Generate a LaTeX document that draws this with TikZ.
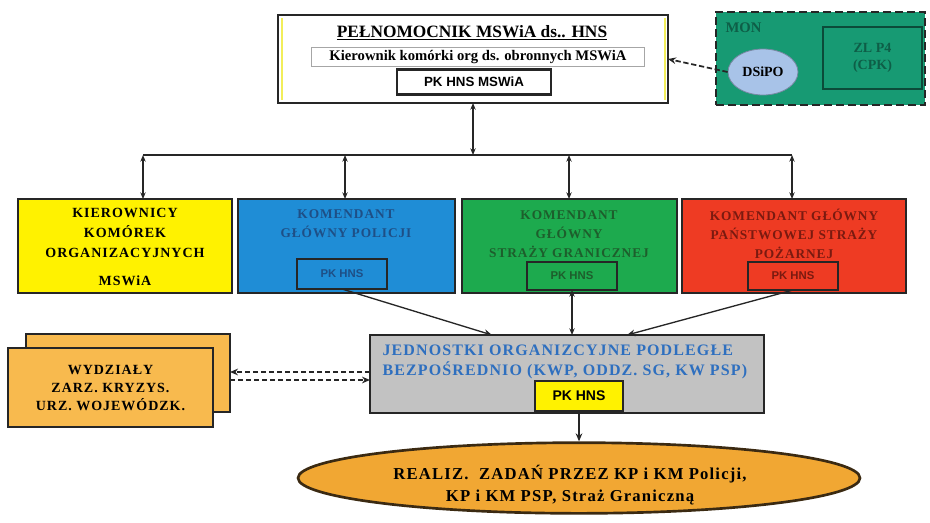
\documentclass[tikz,border=0pt]{standalone}
\usepackage{fontspec}
\setmainfont{Liberation Serif}
\setsansfont{Liberation Sans}
\newfontfamily\wideserif[LetterSpace=7]{Liberation Serif}
\usetikzlibrary{arrows.meta,calc,shapes.geometric}

\definecolor{monGreen}{HTML}{179A73}
\definecolor{monText}{HTML}{0E5E47}
\definecolor{dsipoBlue}{HTML}{A8C3E8}
\definecolor{polBlue}{HTML}{1F8DD6}
\definecolor{polText}{HTML}{1E4F86}
\definecolor{sgGreen}{HTML}{1DAA4E}
\definecolor{sgText}{HTML}{1D5E2C}
\definecolor{pspRed}{HTML}{EE3B23}
\definecolor{pspText}{HTML}{7A1A10}
\definecolor{jedGray}{HTML}{C2C2C2}
\definecolor{jedText}{HTML}{2E6FBF}
\definecolor{wydOrange}{HTML}{F8BA4E}
\definecolor{realOrange}{HTML}{F1A733}
\definecolor{realEdge}{HTML}{3B2A12}
\definecolor{edge}{HTML}{262626}
\definecolor{paleYellow}{HTML}{F2EE5A}

\tikzset{every picture/.style={line width=0.75pt}}

\begin{document}
\begin{tikzpicture}[x=0.75pt,y=0.75pt,yscale=-1,xscale=1,
    box/.style={draw=edge,line width=1.6pt,inner sep=0pt,outer sep=0pt},
    pkbox/.style={box,line width=1.3pt,font=\sffamily\bfseries\fontsize{8.5}{10}\selectfont},
    link/.style={draw=edge,line width=1pt,{Stealth[length=5pt,width=4pt]}-{Stealth[length=5pt,width=4pt]}},
    arr/.style={draw=edge,line width=1pt,-{Stealth[length=6pt,width=5pt]}},
    dasharr/.style={arr,line width=1.3pt,dash pattern=on 4pt off 2pt},
    rowtext/.style={align=center,font=\wideserif\bfseries\fontsize{10}{14}\selectfont}]
\useasboundingbox (0,0) rectangle (930,522);

%Shape: Rectangle - pelnomocnik
\node[box,fill=white,minimum width=292.5pt,minimum height=66pt] (pelnomocnik) at (473,59) {};
\draw[paleYellow,line width=1.5pt] (281.5,18) -- (281.5,100) (664.5,18) -- (664.5,100);
% Text Node
\node[font=\bfseries\fontsize{13}{15}\selectfont,inner sep=0pt] (tytul) at (472,33) {\underline{PEŁNOMOCNIK MSWiA ds.. HNS}};
% Text Node
\node[draw=gray!70,line width=1pt,fill=white,minimum width=249.75pt,minimum height=14.25pt,inner sep=0pt,font=\bfseries\fontsize{11}{12}\selectfont] (kierownik) at (478,57) {Kierownik komórki org ds. obronnych MSWiA};
\node[box,fill=white,minimum width=115.5pt,minimum height=18.75pt,font=\sffamily\bfseries\fontsize{10}{12}\selectfont] (pkmswia) at (474,82) {PK HNS MSWiA};

%Shape: Rectangle - MON
\node[draw=edge,line width=1.6pt,dash pattern=on 6pt off 3pt,fill=monGreen,minimum width=156.75pt,minimum height=69.75pt,inner sep=0pt] (mon) at (820.5,58.5) {};
\node[anchor=north west,text=monText,font=\bfseries\fontsize{11}{13}\selectfont,inner sep=0pt] (monlabel) at (725,22) {MON};
\node[draw=monText!80!black,line width=1pt,fill=monGreen,minimum width=74.25pt,minimum height=46.5pt,inner sep=0pt,align=center,text=monText,font=\bfseries\fontsize{10.5}{13}\selectfont] (zlp4) at (872.5,58) {ZL P4\\(CPK)};
\node[ellipse,draw=dsipoBlue!70!black,line width=0.6pt,fill=dsipoBlue,minimum width=52.5pt,minimum height=34.5pt,inner sep=0pt,font=\bfseries\fontsize{10.5}{12}\selectfont] (dsipo) at (763,72) {DSiPO};
\draw[dasharr] (dsipo.west) -- (pelnomocnik.east);

%Straight Lines - bus
\coordinate (bus) at (473,155);
\coordinate (b1) at (143,155);
\coordinate (b2) at (345,155);
\coordinate (b3) at (569,155);
\coordinate (b4) at (792,155);
\draw[link] (pelnomocnik.south) -- (bus);
\draw[draw=edge,line width=1pt] (b1) -- (b4);

%Shape: Rectangle - row of boxes
\node[box,fill=yellow,minimum width=160.5pt,minimum height=70.5pt] (kierorg) at (125,246) {};
\node[box,fill=polBlue,minimum width=162.75pt,minimum height=70.5pt] (policja) at (346.5,246) {};
\node[box,fill=sgGreen,minimum width=161.25pt,minimum height=70.5pt] (sg) at (569.5,246) {};
\node[box,fill=pspRed,minimum width=168pt,minimum height=70.5pt] (psp) at (794,246) {};
\draw[link] (b1) -- (b1 |- kierorg.north);
\draw[link] (b2) -- (b2 |- policja.north);
\draw[link] (b3) -- (b3 |- sg.north);
\draw[link] (b4) -- (b4 |- psp.north);

% Text Node
\node[rowtext,font=\wideserif\bfseries\fontsize{10.5}{15}\selectfont] (kiertxt) at (125,247) {KIEROWNICY\\KOMÓREK\\ORGANIZACYJNYCH\\[6pt]MSWiA};
\node[rowtext,text=polText] (poltxt) at (346,224) {KOMENDANT\\GŁÓWNY POLICJI};
\node[rowtext,text=sgText] (sgtxt) at (569,234) {KOMENDANT\\GŁÓWNY\\STRAŻY GRANICZNEJ};
\node[rowtext,text=pspText] (psptxt) at (794,234) {KOMENDANT GŁÓWNY\\PAŃSTWOWEJ STRAŻY\\POŻARNEJ};
\node[pkbox,fill=polBlue,text=polText,minimum width=67.5pt,minimum height=22.5pt] (pkpol) at (342,274) {PK HNS};
\node[pkbox,fill=sgGreen,text=sgText,minimum width=67.5pt,minimum height=21pt] (pksg) at (572,276) {PK HNS};
\node[pkbox,fill=pspRed,text=pspText,minimum width=67.5pt,minimum height=21pt] (pkpsp) at (793,276) {PK HNS};

%Shape: Rectangle - jednostki
\node[box,fill=jedGray,minimum width=295.5pt,minimum height=58.5pt] (jednostki) at (567,374) {};
\node[anchor=west,align=left,inner sep=0pt,text=jedText,font=\wideserif\bfseries\fontsize{12}{15}\selectfont] (jedtxt) at (382,362) {JEDNOSTKI ORGANIZCYJNE PODLEGŁE\\BEZPOŚREDNIO (KWP, ODDZ. SG, KW PSP)};
\node[pkbox,fill=yellow,font=\sffamily\bfseries\fontsize{10.5}{12}\selectfont,minimum width=66pt,minimum height=22.5pt] (pkjed) at (579,396) {PK HNS};
\draw[arr] (pkpol.south) -- ($(jednostki.north)+(-75,0)$);
\draw[link] (pksg.south) -- (pksg.south |- jednostki.north);
\draw[arr] (pkpsp.south) -- ($(jednostki.north)+(60,0)$);

%Shape: Rectangle - wydzialy
\node[box,fill=wydOrange,minimum width=153pt,minimum height=58.5pt] (wydzialyB) at (128,373) {};
\node[box,fill=wydOrange,minimum width=153.75pt,minimum height=59.25pt,align=center,font=\wideserif\bfseries\fontsize{10.5}{13.5}\selectfont] (wydzialy) at (110.5,387.5) {WYDZIAŁY\\ZARZ. KRYZYS.\\URZ. WOJEWÓDZK.};
\coordinate (jw1) at ($(jednostki.west)+(0,-2)$);
\coordinate (jw2) at ($(jednostki.west)+(0,6)$);
\draw[dasharr] (jw1) -- (jw1 -| wydzialyB.east);
\draw[dasharr] (jw2 -| wydzialyB.east) -- (jw2);

%Shape: Ellipse - realizacja
\node[ellipse,draw=realEdge,line width=2pt,fill=realOrange,minimum width=421.5pt,minimum height=53pt,inner sep=0pt] (realiz) at (579,478) {};
\node[align=center,inner sep=0pt,font=\wideserif\bfseries\fontsize{12.5}{17}\selectfont] (realtxt) at (570,485) {REALIZ.\ \ ZADAŃ PRZEZ KP i KM Policji,\\KP i KM PSP, Straż Graniczną};
\draw[arr] (pkjed.south) -- (realiz.north);

\end{tikzpicture}
\end{document}
